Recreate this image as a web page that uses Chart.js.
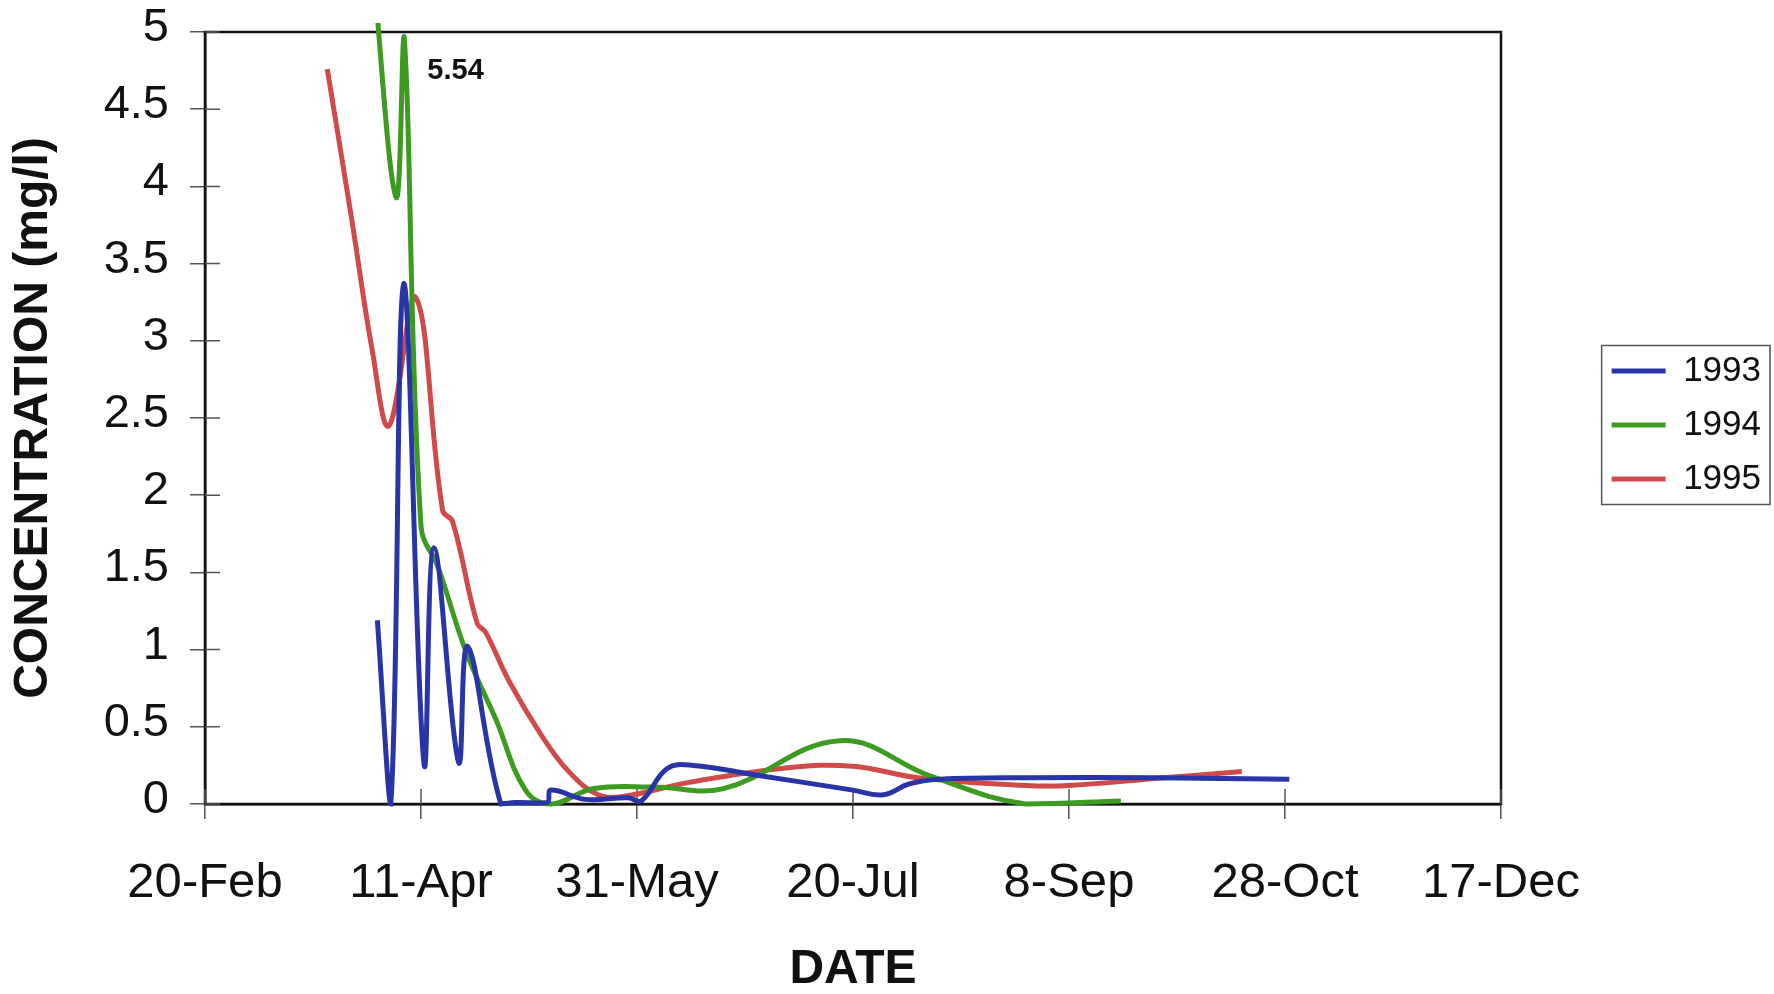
<!DOCTYPE html>
<html lang="en">
<head>
  <meta charset="UTF-8" />
  <title>Concentration by date, 1993-1995</title>
  <script src="https://cdn.jsdelivr.net/npm/chart.js"></script>
  <style>
    body { margin: 0; background: #fff; }
    #wrap { width: 1774px; height: 994px; position: relative; }
  </style>
</head>
<body>
  <div id="wrap"><canvas id="concChart"></canvas></div>

  <script>
  // x values are days counted from 20-Feb
  const xTickLabels = ['20-Feb', '11-Apr', '31-May', '20-Jul', '8-Sep', '28-Oct', '17-Dec'];
  const xTickStep = 50;
  const yTickLabels = ['0', '0.5', '1', '1.5', '2', '2.5', '3', '3.5', '4', '4.5', '5'];
  const yTickStep = 0.5;
  const seriesNames = ['1993', '1994', '1995'];

  const days1993 = [39.9, 43, 46, 50.7, 53, 58.7, 60.8, 68.5, 72, 79.2, 80, 88, 98, 101, 107, 113, 127, 150, 157, 163, 170, 190, 220, 251];
  const conc1993 = [1.19, 0.0, 3.37, 0.26, 1.66, 0.27, 1.02, 0.0, 0.01, 0.01, 0.09, 0.03, 0.04, 0.02, 0.23, 0.25, 0.19, 0.09, 0.06, 0.13, 0.16, 0.17, 0.17, 0.16];

  const days1994 = [38.5, 44.2, 46.1, 50, 54, 60.5, 67.3, 74.2, 80, 90, 104, 120, 147, 168, 190, 212];
  const conc1994 = [5.54, 3.93, 4.97, 1.8, 1.53, 0.98, 0.55, 0.09, 0.0, 0.1, 0.11, 0.10, 0.41, 0.18, 0.0, 0.02];

  const days1995 = [28.3, 34, 38.7, 42.6, 48.8, 55, 57.3, 63, 65, 70.3, 78, 84.2, 91, 97, 112, 135, 150, 165, 190, 200, 222, 240];
  const conc1995 = [4.76, 3.78, 2.94, 2.45, 3.28, 1.90, 1.83, 1.17, 1.11, 0.80, 0.44, 0.21, 0.06, 0.05, 0.14, 0.235, 0.245, 0.17, 0.12, 0.12, 0.17, 0.21];

  // off-scale 1994 peak, written next to the clipped line
  const peakNote = { text: '5.54', day: 58, value: 4.75 };

  const FONT = '"Liberation Sans", Arial, sans-serif';
  const colors = ['#2934a6', '#3d9b22', '#d14a4a'];

  function pairs(days, vals) {
    return days.map((d, i) => ({ x: d, y: vals[i] }));
  }

  // plot frame + inner half of the crossing tick marks
  const frame = {
    id: 'frame',
    beforeDatasetsDraw(chart) {
      const { ctx, chartArea: a, scales: { x, y } } = chart;
      ctx.save();
      ctx.strokeStyle = '#111';
      ctx.lineWidth = 2.5;
      ctx.strokeRect(a.left, a.top, a.right - a.left, a.bottom - a.top);
      ctx.strokeStyle = '#555';
      ctx.lineWidth = 1.5;
      ctx.beginPath();
      y.ticks.forEach(t => {
        const py = y.getPixelForValue(t.value);
        ctx.moveTo(a.left, py); ctx.lineTo(a.left + 15, py);
      });
      x.ticks.forEach(t => {
        const px = x.getPixelForValue(t.value);
        ctx.moveTo(px, a.bottom); ctx.lineTo(px, a.bottom - 15);
      });
      ctx.stroke();
      ctx.restore();
    }
  };

  const peakLabel = {
    id: 'peakLabel',
    afterDatasetsDraw(chart) {
      const { ctx, scales: { x, y } } = chart;
      ctx.save();
      ctx.font = 'bold 29px ' + FONT;
      ctx.fillStyle = '#111';
      ctx.textAlign = 'center';
      ctx.textBaseline = 'middle';
      ctx.fillText(peakNote.text, x.getPixelForValue(peakNote.day), y.getPixelForValue(peakNote.value));
      ctx.restore();
    }
  };

  // legend sits at the far right with empty space between it and the plot
  const legendBox = {
    id: 'legendBox',
    afterInit(chart) {
      const lg = chart.legend;
      const fit = lg.fit;
      lg.fit = function () {
        fit.call(this);
        this.naturalWidth = this.width;
        this.width = 273;
      };
    },
    afterLayout(chart) {
      const lg = chart.legend;
      const a = chart.chartArea;
      lg.left = lg.right - lg.naturalWidth - 3;
      lg.width = lg.naturalWidth;
      lg.top = a.top + 7;
      lg.bottom = a.bottom + 7;
      lg.height = lg.bottom - lg.top;
    },
    afterDraw(chart) {
      const hb = chart.legend.legendHitBoxes;
      if (!hb || !hb.length) return;
      const first = hb[0], last = hb[hb.length - 1];
      const ctx = chart.ctx;
      const l = first.left - 10, t = first.top - 8;
      ctx.save();
      ctx.strokeStyle = '#555';
      ctx.lineWidth = 1.5;
      ctx.strokeRect(l, t, chart.width - 4 - l, last.top + last.height + 8 - t);
      ctx.restore();
    }
  };

  const datasets = [
    [days1993, conc1993],
    [days1994, conc1994],
    [days1995, conc1995]
  ].map(([d, v], i) => ({
    label: seriesNames[i],
    data: pairs(d, v),
    borderColor: colors[i],
    borderWidth: 5,
    tension: 0.4,
    fill: false,
    pointRadius: 0,
    pointHoverRadius: 0,
    pointStyle: 'line',
    pointBorderWidth: 5,
    pointBorderColor: colors[i],
    clip: { left: 3, top: 9, right: 3, bottom: 6 }
  }));

  new Chart(document.getElementById('concChart'), {
    type: 'line',
    data: { datasets: datasets },
    options: {
      responsive: true,
      maintainAspectRatio: false,
      animation: false,
      layout: { padding: { top: 32, left: 0, right: 0, bottom: 0 } },
      plugins: {
        tooltip: { enabled: false },
        legend: {
          position: 'right',
          labels: {
            usePointStyle: true,
            pointStyleWidth: 54,
            padding: 19,
            color: '#111',
            font: { family: FONT, size: 35 }
          }
        }
      },
      scales: {
        x: {
          type: 'linear',
          min: 0,
          max: 300,
          afterFit(scale) {
            scale.height = 190;
            scale.paddingLeft = 0;
            scale.paddingRight = 0;
          },
          ticks: {
            stepSize: xTickStep,
            color: '#111',
            padding: 35,
            maxRotation: 0,
            autoSkip: false,
            font: { family: FONT, size: 49, lineHeight: 1.2 },
            callback: v => xTickLabels[Math.round(v / xTickStep)]
          },
          grid: { drawOnChartArea: false, tickLength: 15, color: '#555', lineWidth: 1.5 },
          border: { color: '#111', width: 2.5 },
          title: {
            display: true,
            text: 'DATE',
            color: '#111',
            padding: { top: 0, bottom: 0 },
            font: { family: FONT, size: 48, weight: 'bold', lineHeight: 1 }
          }
        },
        y: {
          min: 0,
          max: 5,
          afterFit(scale) {
            scale.width = 205;
            scale.paddingTop = 0;
            scale.paddingBottom = 0;
          },
          ticks: {
            stepSize: yTickStep,
            color: '#111',
            padding: 21,
            labelOffset: -4,
            font: { family: FONT, size: 47 },
            callback: v => yTickLabels[Math.round(v / yTickStep)]
          },
          grid: { drawOnChartArea: false, tickLength: 15, color: '#555', lineWidth: 1.5 },
          border: { color: '#111', width: 2.5 },
          title: {
            display: true,
            text: 'CONCENTRATION (mg/l)',
            color: '#111',
            padding: { top: 10, bottom: 0 },
            font: { family: FONT, size: 48, weight: 'bold', lineHeight: 1 }
          }
        }
      }
    },
    plugins: [frame, peakLabel, legendBox]
  });
  </script>
</body>
</html>
